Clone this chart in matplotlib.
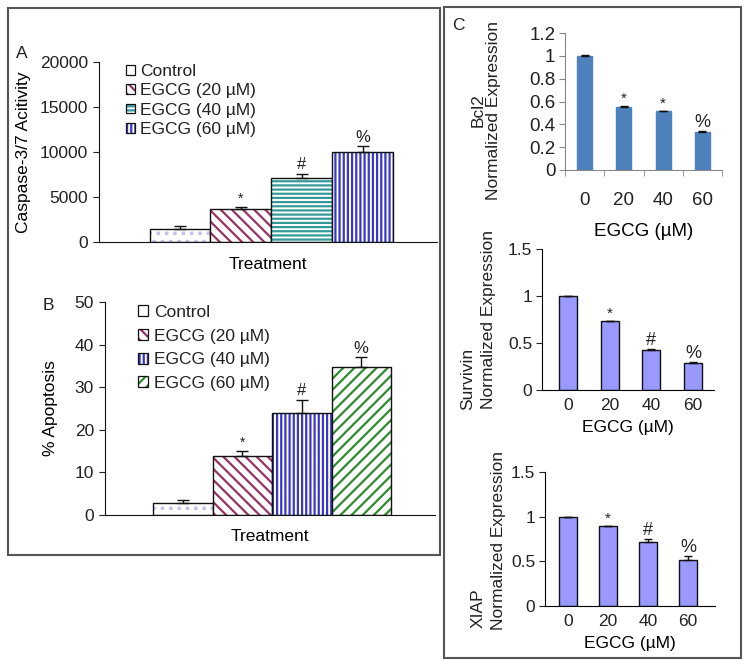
import matplotlib
matplotlib.use("Agg")
import matplotlib.pyplot as plt
import matplotlib.patches as mpatches
from matplotlib.legend_handler import HandlerTuple

plt.rcParams['font.family'] = ['Liberation Sans', 'DejaVu Sans']
plt.rcParams['hatch.linewidth'] = 1.6
plt.rcParams['text.color'] = '#222222'
plt.rcParams['xtick.color'] = '#222222'
plt.rcParams['ytick.color'] = '#222222'

# ---- data ----
groups = ['Control', 'EGCG (20 µM)', 'EGCG (40 µM)', 'EGCG (60 µM)']
groups_b = ['Control', 'EGCG (20 µM)', 'EGCG (40 µM)', 'EGCG (60 µM)']
caspase = [1400, 3650, 7100, 10000]
caspase_err = [380, 250, 500, 650]
caspase_marks = ['', '*', '#', '%']
apoptosis = [2.7, 13.8, 24.0, 34.8]
apoptosis_err = [0.8, 1.3, 3.1, 2.3]
apoptosis_marks = ['', '*', '#', '%']

doses = ['0', '20', '40', '60']
bcl2 = [1.0, 0.556, 0.515, 0.337]
bcl2_err = [0.004, 0.006, 0.005, 0.005]
bcl2_marks = ['', '*', '*', '%']
survivin = [1.0, 0.73, 0.43, 0.285]
survivin_err = [0.0, 0.005, 0.005, 0.01]
survivin_marks = ['', '*', '#', '%']
xiap = [1.0, 0.89, 0.72, 0.51]
xiap_err = [0.0, 0.005, 0.03, 0.045]
xiap_marks = ['', '*', '#', '%']

W, H = 750, 671
fig = plt.figure(figsize=(W / 100, H / 100), dpi=100)


def rect(l, t, r, b):
    return [l / W, 1 - b / H, (r - l) / W, (b - t) / H]


def hatched_bars(ax, heights, errs, colors, hatches):
    handles = []
    for i, (hgt, c, ht) in enumerate(zip(heights, colors, hatches)):
        ax.bar(i, hgt, 1.0, color='white', edgecolor=c, hatch=ht, linewidth=0)
        ax.bar(i, hgt, 1.0, fill=False, edgecolor='#111111', linewidth=1.0)
        # control square in the legend is left plain
        hp = mpatches.Patch(facecolor='white', edgecolor=c,
                            hatch=None if ht.startswith('.') else ht, linewidth=0)
        op = mpatches.Patch(fill=False, edgecolor='#111111', linewidth=0.9)
        handles.append((hp, op))
    ax.errorbar(range(len(heights)), heights, yerr=[[0] * len(errs), errs],
                fmt='none', ecolor='#111111', elinewidth=1, capsize=4, capthick=1)
    return handles


def mark(ax, heights, errs, marks, size=12, dy=1):
    for i, (hgt, e, m) in enumerate(zip(heights, errs, marks)):
        if m:
            fs = size - 2 if m == '*' else size
            ax.annotate(m, (i, hgt + e), xytext=(0, dy), textcoords='offset points',
                        ha='center', va='bottom', fontsize=fs)


def style_ab(ax):
    for s in ['top', 'right']:
        ax.spines[s].set_visible(False)
    ax.spines['left'].set_color('#111111')
    ax.spines['bottom'].set_color('#111111')
    ax.set_xticks([])
    ax.tick_params(axis='y', direction='out', length=4, pad=4, labelsize=12.5)


# ---- panel A ----
axA = fig.add_axes(rect(99, 62, 437, 242))
hA = hatched_bars(axA, caspase, caspase_err,
                  ['#c4c4ec', '#993366', '#339999', '#3838c8'],
                  ['..', '\\\\\\', '----', '||||'])
mark(axA, caspase, caspase_err, caspase_marks)
axA.set_xlim(-1.33, 4.22)
axA.set_ylim(0, 20000)
axA.set_yticks([0, 5000, 10000, 15000, 20000])
style_ab(axA)
axA.set_xlabel('Treatment', fontsize=12.5, labelpad=11)
axA.set_ylabel('Caspase-3/7 Acitivity', fontsize=12.5, labelpad=6)
axA.legend(hA, groups, handler_map={tuple: HandlerTuple(ndivide=1)},
           loc='upper left', bbox_to_anchor=(126 / W, 1 - 64 / H),
           bbox_transform=fig.transFigure, frameon=False, fontsize=12.5,
           handlelength=0.5, handleheight=0.5, handletextpad=0.3,
           labelspacing=0.25, borderpad=0, borderaxespad=0)
fig.text(22 / W, 1 - 54 / H, 'A', fontsize=12.5, ha='center', va='center')

# ---- panel B ----
axB = fig.add_axes(rect(105, 302, 435, 515))
hB = hatched_bars(axB, apoptosis, apoptosis_err,
                  ['#c4c4ec', '#993366', '#3838c8', '#2e8b2e'],
                  ['..', '\\\\\\', '||||', '///'])
mark(axB, apoptosis, apoptosis_err, apoptosis_marks)
axB.set_xlim(-1.31, 4.24)
axB.set_ylim(0, 50)
axB.set_yticks([0, 10, 20, 30, 40, 50])
style_ab(axB)
axB.set_xlabel('Treatment', fontsize=12.5, labelpad=10)
axB.set_ylabel('% Apoptosis', fontsize=12.5, labelpad=12)
axB.legend(hB, groups_b, handler_map={tuple: HandlerTuple(ndivide=1)},
           loc='upper left', bbox_to_anchor=(138 / W, 1 - 305 / H),
           bbox_transform=fig.transFigure, frameon=False, fontsize=12.5,
           handlelength=0.6, handleheight=0.6, handletextpad=0.35,
           labelspacing=0.5, borderpad=0, borderaxespad=0)
fig.text(48 / W, 1 - 306 / H, 'B', fontsize=12.5, ha='center', va='center')

# ---- panel C: Bcl2 ----
axC1 = fig.add_axes(rect(565, 33, 722, 170))
x = range(len(doses))
axC1.bar(x, bcl2, 0.38, color='#4f81bd', edgecolor='#4f81bd')
axC1.errorbar(x, bcl2, yerr=[[0] * 4, bcl2_err], fmt='none', ecolor='#111111',
              elinewidth=1, capsize=3)
mark(axC1, bcl2, bcl2_err, bcl2_marks, size=13, dy=0)
axC1.set_xlim(-0.5, 3.5)
axC1.set_ylim(0, 1.2)
axC1.set_yticks([0, 0.2, 0.4, 0.6, 0.8, 1.0, 1.2])
axC1.set_yticklabels(['0', '0.2', '0.4', '0.6', '0.8', '1', '1.2'])
axC1.set_xticks(list(x))
axC1.set_xticklabels(doses)
axC1.set_xticks([-0.5, 0.5, 1.5, 2.5, 3.5], minor=True)
axC1.tick_params(axis='x', which='major', length=0, pad=16, labelsize=13.5)
axC1.tick_params(axis='x', which='minor', direction='out', length=4, color='#888888')
axC1.tick_params(axis='y', direction='out', length=4, pad=3, labelsize=13.5, color='#888888')
for s in ['top', 'right']:
    axC1.spines[s].set_visible(False)
axC1.spines['left'].set_color('#888888')
axC1.spines['bottom'].set_color('#888888')
axC1.set_xlabel('EGCG (µM)', fontsize=13.5, labelpad=10)
fig.text(478 / W, 1 - 110 / H, 'Bcl2', fontsize=12.5, rotation=90, ha='center', va='center')
fig.text(494 / W, 1 - 110 / H, 'Normalized Expression', fontsize=12.5, rotation=90,
         ha='center', va='center')
fig.text(458 / W, 1 - 25 / H, 'C', fontsize=12.5, ha='center', va='center')


def style_c(ax, xl):
    for s in ['top', 'right']:
        ax.spines[s].set_visible(False)
    ax.set_xlim(*xl)
    ax.set_ylim(0, 1.5)
    ax.set_yticks([0, 0.5, 1.0, 1.5])
    ax.set_yticklabels(['0', '0.5', '1', '1.5'])
    ax.set_xticks(list(range(4)))
    ax.set_xticklabels(doses)
    ax.tick_params(axis='x', length=0, pad=6, labelsize=12.5)
    ax.tick_params(axis='y', direction='out', length=4, pad=3, labelsize=12.5)


# ---- panel C: Survivin ----
axC2 = fig.add_axes(rect(542, 249, 714, 390))
axC2.bar(x, survivin, 0.43, color='#9999ff', edgecolor='#111111', linewidth=1)
axC2.errorbar(x, survivin, yerr=[[0] * 4, survivin_err], fmt='none', ecolor='#111111',
              elinewidth=1, capsize=3)
mark(axC2, survivin, survivin_err, survivin_marks, size=13, dy=0)
style_c(axC2, (-0.62, 3.5))
axC2.set_xlabel('EGCG (µM)', fontsize=12.5, labelpad=5)
fig.text(468 / W, 1 - 379 / H, 'Survivin', fontsize=12.5, rotation=90, ha='center', va='center')
fig.text(489 / W, 1 - 320 / H, 'Normalized Expression', fontsize=12.5, rotation=90,
         ha='center', va='center')

# ---- panel C: XIAP ----
axC3 = fig.add_axes(rect(545, 472, 715, 606))
axC3.bar(x, xiap, 0.43, color='#9999ff', edgecolor='#111111', linewidth=1)
axC3.errorbar(x, xiap, yerr=[[0] * 4, xiap_err], fmt='none', ecolor='#111111',
              elinewidth=1, capsize=3)
mark(axC3, xiap, xiap_err, xiap_marks, size=13, dy=0)
style_c(axC3, (-0.575, 3.675))
axC3.set_xlabel('EGCG (µM)', fontsize=12.5, labelpad=5)
fig.text(478 / W, 1 - 608 / H, 'XIAP', fontsize=12.5, rotation=90, ha='center', va='center')
fig.text(498 / W, 1 - 540 / H, 'Normalized Expression', fontsize=12.5, rotation=90,
         ha='center', va='center')

# ---- panel boxes ----
for l, t, r, b in [(8, 8, 440, 555), (444, 7, 741, 658)]:
    fig.add_artist(mpatches.Rectangle((l / W, 1 - b / H), (r - l) / W, (b - t) / H,
                                      transform=fig.transFigure, fill=False,
                                      edgecolor='#555555', linewidth=1.5))

fig.savefig('out.png', dpi=100)
